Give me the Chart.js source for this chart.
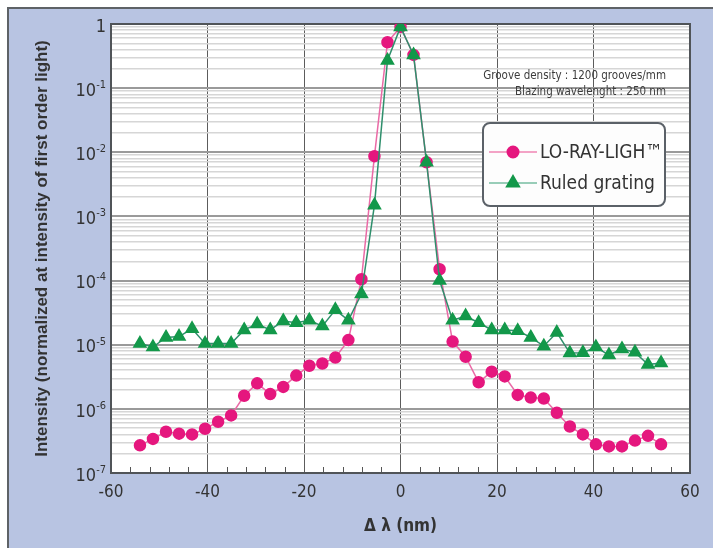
<!DOCTYPE html>
<html>
<head>
<meta charset="utf-8">
<script src="https://cdn.jsdelivr.net/npm/chart.js@4.4.0/dist/chart.umd.min.js"></script>
<style>
  html, body { margin: 0; padding: 0; background: #fff; }
  #wrap { width: 713px; height: 548px; }
</style>
</head>
<body>
<div id="wrap"><canvas id="gratingChart" width="713" height="548"></canvas></div>
<script>
// wavelength shift from the first order line (nm)
const shiftNm = [-54, -51.3, -48.6, -45.9, -43.2, -40.5, -37.8, -35.1, -32.4, -29.7,
  -27, -24.3, -21.6, -18.9, -16.2, -13.5, -10.8, -8.1, -5.4, -2.7,
  0, 2.7, 5.4, 8.1, 10.8, 13.5, 16.2, 18.9, 21.6, 24.3,
  27, 29.7, 32.4, 35.1, 37.8, 40.5, 43.2, 45.9, 48.6, 51.3, 54];

const loRayLight = [2.7e-7, 3.4e-7, 4.4e-7, 4.1e-7, 4.0e-7, 4.9e-7, 6.3e-7, 7.9e-7, 1.6e-6, 2.5e-6,
  1.7e-6, 2.2e-6, 3.3e-6, 4.7e-6, 5.1e-6, 6.3e-6, 1.18e-5, 1.05e-4, 8.7e-3, 0.52,
  0.9, 0.33, 7.0e-3, 1.5e-4, 1.12e-5, 6.5e-6, 2.6e-6, 3.8e-6, 3.2e-6, 1.65e-6,
  1.5e-6, 1.45e-6, 8.7e-7, 5.3e-7, 4.0e-7, 2.8e-7, 2.6e-7, 2.6e-7, 3.2e-7, 3.8e-7, 2.8e-7];

const ruledGrating = [1.04e-5, 9.2e-6, 1.3e-5, 1.34e-5, 1.77e-5, 1.04e-5, 1.04e-5, 1.04e-5, 1.7e-5, 2.1e-5,
  1.7e-5, 2.35e-5, 2.2e-5, 2.4e-5, 1.95e-5, 3.5e-5, 2.4e-5, 6.2e-5, 1.5e-3, 0.27,
  0.9, 0.33, 7.0e-3, 1.0e-4, 2.4e-5, 2.8e-5, 2.2e-5, 1.7e-5, 1.7e-5, 1.65e-5,
  1.3e-5, 9.5e-6, 1.55e-5, 7.4e-6, 7.5e-6, 9.2e-6, 6.9e-6, 8.6e-6, 7.6e-6, 4.9e-6, 5.2e-6];

const seriesNames = ['LO-RAY-LIGH\u2122', 'Ruled grating'];
const xLabelValues = [-60, -40, -20, 0, 20, 40, 60];
const yDecades = [0, -1, -2, -3, -4, -5, -6, -7];
const noteLines = ['Groove density : 1200 grooves/mm', 'Blazing wavelenght : 250 nm'];

const narrow = "'Liberation Sans Narrow', 'DejaVu Sans Condensed', 'Arial Narrow', sans-serif";
const textColor = '#333';

const toPoints = (ys) => ys.map((y, i) => ({ x: shiftNm[i], y: y }));

// blue panel behind everything, white plot field
const panel = {
  id: 'panel',
  beforeDraw(chart) {
    const { ctx, width, height, chartArea: a } = chart;
    ctx.save();
    ctx.fillStyle = '#fff';
    ctx.fillRect(0, 0, width, height);
    ctx.fillStyle = '#b8c4e2';
    ctx.fillRect(8, 8, width - 8, height - 8);
    ctx.strokeStyle = '#5e6266';
    ctx.lineWidth = 2;
    ctx.beginPath();
    ctx.moveTo(8, height);
    ctx.lineTo(8, 8);
    ctx.lineTo(width, 8);
    ctx.stroke();
    ctx.fillStyle = '#fff';
    ctx.fillRect(a.left, a.top, a.right - a.left, a.bottom - a.top);
    ctx.restore();
  }
};

// plot frame and the small inward ticks on the bottom axis
const frame = {
  id: 'frame',
  beforeDatasetsDraw(chart) {
    const { ctx, chartArea: a } = chart;
    const x = chart.scales.x;
    ctx.save();
    ctx.strokeStyle = '#555';
    ctx.lineWidth = 1;
    x.ticks.forEach(t => {
      if (t.value % 20 === 0) return;
      const px = Math.round(x.getPixelForValue(t.value)) + 0.5;
      ctx.beginPath();
      ctx.moveTo(px, a.bottom);
      ctx.lineTo(px, a.bottom - 6);
      ctx.stroke();
    });
    ctx.lineWidth = 2;
    ctx.strokeStyle = '#505458';
    ctx.strokeRect(a.left, a.top, a.right - a.left, a.bottom - a.top);
    ctx.restore();
  }
};

// decade labels 1, 10^-1 ... 10^-7 with raised exponents
const decadeLabels = {
  id: 'decadeLabels',
  afterDraw(chart) {
    const { ctx } = chart;
    const y = chart.scales.y;
    const right = 106;
    ctx.save();
    ctx.fillStyle = textColor;
    ctx.textBaseline = 'middle';
    ctx.textAlign = 'right';
    yDecades.forEach(e => {
      const py = y.getPixelForValue(Math.pow(10, e)) + 3;
      if (e === 0) {
        ctx.font = '18px ' + narrow;
        ctx.fillText('1', right, py);
        return;
      }
      const sup = '-' + Math.abs(e);
      ctx.font = '11px ' + narrow;
      const sw = ctx.measureText(sup).width;
      ctx.fillText(sup, right, py - 6);
      ctx.font = '18px ' + narrow;
      ctx.fillText('10', right - sw, py);
    });
    ctx.restore();
  }
};

// grating note and boxed legend in the upper right
const noteAndLegend = {
  id: 'noteAndLegend',
  afterDraw(chart) {
    const { ctx } = chart;
    ctx.save();
    ctx.fillStyle = '#3c3c3c';
    ctx.font = '11.5px ' + narrow;
    ctx.textAlign = 'right';
    ctx.textBaseline = 'middle';
    ctx.fillText(noteLines[0], 666, 76);
    ctx.fillText(noteLines[1], 666, 92);

    const bx = 483, by = 123, bw = 182, bh = 83;
    ctx.beginPath();
    ctx.roundRect(bx, by, bw, bh, 7);
    ctx.fillStyle = '#fdfdfd';
    ctx.fill();
    ctx.lineWidth = 2;
    ctx.strokeStyle = '#5b6168';
    ctx.stroke();

    const rows = [152, 183];
    const lineCols = ['#f3a3c6', '#98cdb8'];
    chart.data.datasets.forEach((ds, i) => {
      const ly = rows[i];
      ctx.strokeStyle = lineCols[i];
      ctx.lineWidth = 2;
      ctx.beginPath();
      ctx.moveTo(489, ly);
      ctx.lineTo(537, ly);
      ctx.stroke();
      ctx.fillStyle = ds.pointBackgroundColor;
      ctx.strokeStyle = ds.pointBorderColor;
      Chart.helpers.drawPoint(ctx, {
        pointStyle: ds.pointStyle, radius: ds.pointRadius, rotation: 0, borderWidth: 1
      }, 513, ly);
      ctx.fillStyle = textColor;
      ctx.font = '19px ' + narrow;
      ctx.textAlign = 'left';
      ctx.fillText(ds.label, 540, ly + 1);
    });
    ctx.restore();
  }
};

new Chart(document.getElementById('gratingChart'), {
  type: 'line',
  data: {
    datasets: [
      {
        label: seriesNames[0],
        data: toPoints(loRayLight),
        borderColor: '#ea6aa6',
        borderWidth: 1.5,
        pointStyle: 'circle',
        pointRadius: 5.5,
        pointBackgroundColor: '#e5177e',
        pointBorderColor: '#e5177e',
        tension: 0,
        order: 1
      },
      {
        label: seriesNames[1],
        data: toPoints(ruledGrating),
        borderColor: '#2f8f6c',
        borderWidth: 1.5,
        pointStyle: 'triangle',
        pointRadius: 7,
        pointBackgroundColor: '#13984a',
        pointBorderColor: '#13984a',
        tension: 0,
        order: 0
      }
    ]
  },
  options: {
    responsive: false,
    animation: false,
    devicePixelRatio: 1,
    layout: { padding: { left: 0, top: 24, right: 23, bottom: 0 } },
    plugins: {
      legend: { display: false },
      tooltip: { enabled: false }
    },
    scales: {
      x: {
        type: 'linear',
        min: -60,
        max: 60,
        border: { display: false },
        grid: {
          drawTicks: false,
          color: (c) => (c.tick && c.tick.value % 20 === 0) ? '#5c5c5c' : 'rgba(0,0,0,0)',
          lineWidth: 1
        },
        ticks: {
          stepSize: 4,
          autoSkip: false,
          maxRotation: 0,
          padding: 9,
          color: textColor,
          font: { family: narrow, size: 17 },
          callback: (v) => xLabelValues.includes(v) ? String(v) : ''
        },
        title: {
          display: true,
          text: '\u0394 \u03bb (nm)',
          color: textColor,
          font: { family: narrow, size: 17, weight: 'bold' },
          padding: { top: 0, bottom: 11 }
        },
        afterFit: (s) => { s.height = 75; }
      },
      y: {
        type: 'logarithmic',
        min: 1e-7,
        max: 1,
        border: { display: false },
        afterBuildTicks: (s) => {
          const t = [];
          for (let e = -7; e < 0; e++) {
            for (let m = 1; m <= 9; m++) t.push({ value: m * Math.pow(10, e) });
          }
          t.push({ value: 1 });
          s.ticks = t;
        },
        grid: {
          drawTicks: false,
          color: (c) => {
            const l = Math.log10(c.tick.value);
            return Math.abs(l - Math.round(l)) < 1e-6 ? '#9a9a9a' : '#d6d6d6';
          },
          lineWidth: (c) => {
            const l = Math.log10(c.tick.value);
            return Math.abs(l - Math.round(l)) < 1e-6 ? 2 : 1.5;
          }
        },
        ticks: { display: false },
        title: {
          display: true,
          text: 'Intensity (normalized at intensity of first order light)',
          color: textColor,
          font: { family: "'Liberation Sans', Arial, sans-serif", size: 17, weight: 'bold' },
          padding: { top: 32, bottom: 0 }
        },
        afterFit: (s) => { s.width = 111; }
      }
    }
  },
  plugins: [panel, frame, decadeLabels, noteAndLegend]
});
</script>
</body>
</html>
